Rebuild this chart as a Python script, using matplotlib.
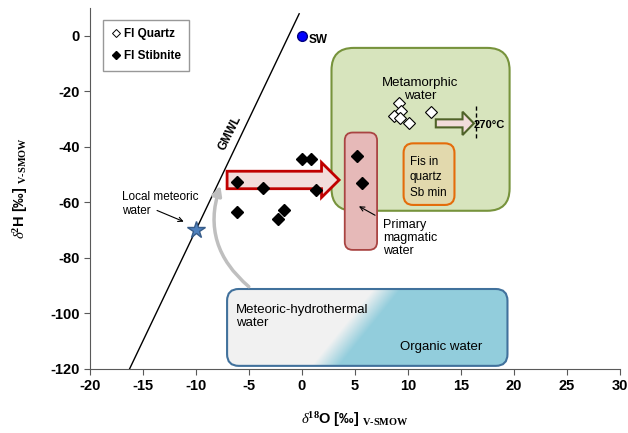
import numpy as np
import matplotlib
matplotlib.use('Agg')
import matplotlib.pyplot as plt
from matplotlib.patches import FancyBboxPatch, FancyArrow, FancyArrowPatch
from matplotlib.lines import Line2D

plt.rcParams['font.family'] = ['Liberation Sans', 'DejaVu Sans']
plt.rcParams['axes.unicode_minus'] = False
plt.rcParams['mathtext.fontset'] = 'custom'
plt.rcParams['mathtext.rm'] = 'Liberation Serif'
plt.rcParams['mathtext.it'] = 'Liberation Serif:italic'
plt.rcParams['mathtext.bf'] = 'Liberation Serif:bold'

# fluid inclusion data (d18O, d2H)
quartz_d18o = [9.2, 9.4, 8.7, 9.3, 10.1, 12.2]
quartz_d2h = [-24.3, -27.0, -28.8, -29.5, -31.2, -27.3]

stibnite_d18o = [0.0, 0.9, -6.1, -3.7, 1.3, -6.1, -1.7, -2.2, 5.2, 5.7]
stibnite_d2h = [-44.3, -44.3, -52.5, -54.9, -55.5, -63.5, -62.7, -66.0, -43.2, -53.1]

sw_point = (0, 0)
local_meteoric = (-10, -70)

# global meteoric water line: d2H = 8 * d18O + 10
gmwl_d2h = np.array([-120, 8])
gmwl_d18o = (gmwl_d2h - 10) / 8

fig = plt.figure(figsize=(6.28, 4.33), dpi=100)
ax = fig.add_axes([0.143, 0.148, 0.844, 0.833])
ax.set_xlim(-20, 30)
ax.set_ylim(-120, 10)

# y units per x unit on screen (for round corners)
asp = 3.82

# fields
green = FancyBboxPatch((2.8, -63), 16.8, 58.7,
                       boxstyle='round,pad=0,rounding_size=2.1', mutation_aspect=asp,
                       fc='#d7e4bd', ec='#77933c', lw=1.5, zorder=1)
ax.add_patch(green)

orange = FancyBboxPatch((9.6, -60.9), 4.8, 22.2,
                        boxstyle='round,pad=0,rounding_size=0.9', mutation_aspect=asp,
                        fc='#e2d9ad', ec='#e46c0a', lw=1.5, zorder=2)
ax.add_patch(orange)

pink = FancyBboxPatch((4.05, -77.1), 3.05, 42.3,
                      boxstyle='round,pad=0,rounding_size=0.75', mutation_aspect=asp,
                      fc='#e6b9b8', ec='#a94442', lw=1.3, zorder=2)
ax.add_patch(pink)

# meteoric / organic box with diagonal gradient
bx0, bx1, by0, by1 = -7.05, 19.4, -118.9, -91.2
blue = FancyBboxPatch((bx0, by0), bx1 - bx0, by1 - by0,
                      boxstyle='round,pad=0,rounding_size=1.1', mutation_aspect=asp,
                      fc='none', ec='#41719c', lw=1.5, zorder=3)
ax.add_patch(blue)
gx, gy = np.meshgrid(np.linspace(bx0, bx1, 400), np.linspace(by0, by1, 100))
centre = 2.2 + (gy - by0) / (by1 - by0) * 5.8
t = np.clip((gx - centre + 1.3) / 2.6, 0, 1)
c0 = np.array([0.949, 0.949, 0.949])
c1 = np.array([0.573, 0.804, 0.863])
rgb = c0 * (1 - t[..., None]) + c1 * t[..., None]
img = ax.imshow(rgb, extent=(bx0, bx1, by0, by1), origin='lower', aspect='auto', zorder=2)
img.set_clip_path(blue)

# GMWL
ax.plot(gmwl_d18o, gmwl_d2h, color='black', lw=1, zorder=3)
ax.text(-6.8, -35, 'GMWL', rotation=63.5, fontsize=8.5, fontweight='bold',
        ha='center', va='center', zorder=5)

# arrows
ax.add_patch(FancyArrow(-7.05, -51.9, 10.57, 0, width=6.3, head_width=12.6,
                        head_length=1.66, length_includes_head=True,
                        fc='#f2dcdb', ec='#c00000', lw=2, zorder=4))
ax.add_patch(FancyArrow(12.64, -31.5, 3.59, 0, width=2.9, head_width=8.4,
                        head_length=1.07, length_includes_head=True,
                        fc='#f2dcdb', ec='#4f6228', lw=1.5, zorder=4))
ax.plot([16.4, 16.4], [-25.3, -36.7], color='black', lw=1, ls=(0, (3, 2)), zorder=5)
ax.text(16.2, -32, '270°C', fontsize=8, fontweight='bold', ha='left', va='center', zorder=6)

ax.add_patch(FancyArrowPatch((-4.8, -91.0), (-7.6, -53), connectionstyle='arc3,rad=-0.35',
                             arrowstyle='-|>', mutation_scale=14, color='#bfbfbf',
                             lw=2.5, zorder=3))

# data points
ax.plot(stibnite_d18o, stibnite_d2h, 'D', color='black', ms=6.5, ls='none', zorder=6)
ax.plot(quartz_d18o, quartz_d2h, 'D', mfc='white', mec='black', mew=0.8, ms=6.5,
        ls='none', zorder=6)
ax.plot(*sw_point, 'o', color='#0000ff', mec='#000080', ms=7, zorder=6)
ax.text(0.6, -1.5, 'SW', fontsize=8.5, fontweight='bold', ha='left', va='center')
ax.plot(*local_meteoric, '*', color='#4f81bd', mec='#385d8a', ms=13, zorder=6)

# labels
ax.text(11.2, -19.3, 'Metamorphic\nwater', fontsize=9.5, ha='center', va='center',
        linespacing=1.1, zorder=5)
ax.text(10.2, -51, 'Fis in\nquartz\nSb min', fontsize=8.5, ha='left', va='center',
        linespacing=1.35, zorder=5)
ax.text(7.7, -72.8, 'Primary\nmagmatic\nwater', fontsize=9, ha='left', va='center',
        linespacing=1.1, zorder=5)
ax.annotate('', xy=(5.16, -60.9), xytext=(7.14, -65.1),
            arrowprops=dict(arrowstyle='->', color='black', lw=0.8, mutation_scale=8),
            zorder=6)
ax.text(-17.0, -60.5, 'Local meteoric\nwater', fontsize=8.5, ha='left', va='center',
        linespacing=1.15)
ax.annotate('', xy=(-10.9, -67.3), xytext=(-13.9, -62.5),
            arrowprops=dict(arrowstyle='->', color='black', lw=0.8, mutation_scale=8),
            zorder=6)
ax.text(-6.2, -101.2, 'Meteoric-hydrothermal\nwater', fontsize=9.5, ha='left', va='center',
        linespacing=1.15, zorder=5)
ax.text(17.0, -112.2, 'Organic water', fontsize=9.5, ha='right', va='center', zorder=5)

# legend
handles = [Line2D([], [], marker='D', ls='none', mfc='white', mec='black', mew=0.7, ms=4.5),
           Line2D([], [], marker='D', ls='none', color='black', ms=4.5)]
leg = ax.legend(handles, ['FI Quartz', 'FI Stibnite'], loc='upper left',
                bbox_to_anchor=(0.013, 0.985), fancybox=False, edgecolor='#7f7f7f',
                handlelength=0.8, handletextpad=0.3, borderpad=0.7, labelspacing=0.9,
                prop={'weight': 'bold', 'size': 8.5})
leg.get_frame().set_linewidth(1.0)

# axes styling
ax.spines['top'].set_visible(False)
ax.spines['right'].set_visible(False)
ax.spines['left'].set_color('#595959')
ax.spines['bottom'].set_color('#595959')
ax.set_xticks(np.arange(-20, 31, 5))
ax.set_yticks(np.arange(-120, 1, 20))
ax.tick_params(direction='out', length=4, color='#595959', labelsize=10.5)
for lab in ax.get_xticklabels() + ax.get_yticklabels():
    lab.set_fontweight('bold')

ax.set_xlabel(r'$\delta$$^{\mathbf{18}}$O [‰] $_{\mathbf{V‐SMOW}}$', fontsize=10.5,
              fontweight='bold', labelpad=12)
ax.set_ylabel(r'$\delta$$^{\mathbf{2}}$H [‰] $_{\mathbf{V‐SMOW}}$', fontsize=10.5,
              fontweight='bold', labelpad=14)

fig.savefig('out.png', dpi=100)
